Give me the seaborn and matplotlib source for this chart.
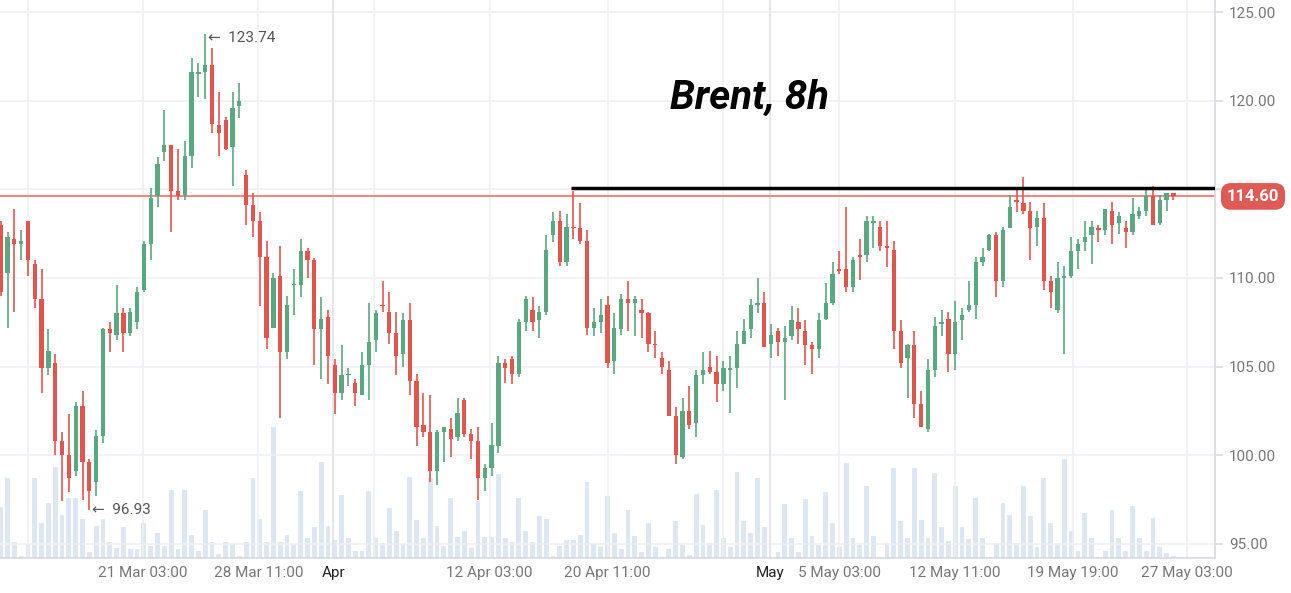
import numpy as np
import pandas as pd
import matplotlib
matplotlib.use("Agg")
import matplotlib.pyplot as plt
import seaborn as sns

# OHLC per 8h candle
opens = [113.0,110.3,112.2,111.9,113.2,110.8,108.8,104.9,105.2,100.8,100.0,99.1,102.8,99.6,98.5,101.1,107.1,106.8,108.0,106.9,
         107.5,109.3,111.9,114.6,117.1,117.5,114.9,114.7,116.9,121.5,121.6,122.0,118.6,118.9,117.4,119.7,115.8,114.1,113.2,111.2,
         107.2,110.1,105.8,109.6,109.6,111.5,111.0,107.1,107.8,105.1,103.5,104.5,104.1,103.4,105.1,106.5,108.5,108.1,106.9,105.7,
         107.6,104.2,101.7,101.3,99.1,101.3,101.5,101.0,103.1,101.2,100.8,98.7,99.3,100.5,105.2,105.4,104.6,107.5,108.2,107.6,
         108.1,112.4,113.2,110.9,112.9,112.8,112.1,107.2,107.5,108.5,105.3,107.1,108.8,108.6,108.2,108.0,106.3,105.5,104.8,102.2,
         99.9,102.5,101.8,104.5,105.0,104.7,104.0,104.8,104.9,106.3,107.1,108.5,108.6,106.3,107.0,106.4,106.7,107.5,107.0,106.2,
         106.0,107.7,108.6,110.5,110.5,109.5,111.3,111.3,113.1,112.9,111.8,111.6,107.0,105.5,106.2,102.9,101.5,104.8,107.4,107.7,
         105.7,107.6,108.2,108.5,110.9,111.6,112.4,109.8,112.8,114.4,114.2,113.8,112.9,113.4,109.8,108.2,110.0,110.1,111.5,112.0,
         112.4,112.8,112.7,113.8,113.1,112.8,112.6,113.5,113.8,114.6,113.1,114.4,114.8]
closes = [109.2,112.3,111.9,112.1,111.0,108.8,104.9,105.9,100.8,100.0,98.7,102.8,99.6,98.0,101.1,107.1,106.9,108.0,106.9,108.1,
          109.2,111.9,114.5,116.4,117.5,114.9,114.6,116.9,121.6,121.6,122.0,118.7,118.2,117.3,119.6,120.0,114.1,113.2,111.2,106.6,
          110.0,105.8,108.5,109.6,111.5,111.0,107.1,107.7,105.6,103.5,104.5,104.6,103.5,105.1,106.4,108.0,108.4,106.9,105.6,107.6,
          104.2,101.6,101.3,99.1,101.3,101.6,100.9,102.4,101.2,100.8,98.7,99.3,100.6,105.2,104.9,104.6,107.5,108.8,107.5,108.1,
          111.6,113.2,110.9,112.9,112.8,112.1,107.2,107.5,107.9,105.2,107.2,108.8,108.6,108.8,108.0,106.3,106.2,105.0,102.2,100.0,
          102.5,101.7,104.5,104.8,104.7,104.0,104.9,104.9,106.3,107.0,108.5,108.6,106.1,106.8,106.4,106.6,107.6,107.1,106.2,106.0,
          107.6,108.6,110.2,110.4,109.5,111.0,111.2,113.2,113.2,111.8,111.7,107.0,105.2,106.2,102.9,101.6,104.8,107.3,107.5,105.7,
          107.5,107.9,108.5,110.9,111.2,112.4,109.8,112.7,114.0,114.3,113.8,112.8,113.4,109.8,109.2,110.0,110.1,111.5,111.9,112.3,
          112.9,112.7,113.9,113.0,113.5,112.6,113.6,113.8,114.6,113.0,114.4,114.8,114.6]
highs = [113.2,112.6,113.9,112.7,113.2,111.0,110.5,107.1,105.7,101.3,102.3,103.0,103.6,99.8,101.4,107.2,107.5,109.6,108.3,108.3,
         109.5,112.1,115.1,116.8,119.5,117.5,117.3,117.7,122.4,122.1,123.74,123.0,120.5,119.1,120.5,121.0,116.1,114.8,113.7,112.1,
         110.3,111.8,109.0,110.5,112.2,111.7,111.1,108.9,108.2,105.4,106.2,104.9,104.3,105.8,108.6,108.2,109.8,109.2,108.1,108.0,
         108.6,104.6,103.5,103.4,101.4,101.6,102.1,103.2,103.2,101.5,101.6,99.5,101.8,105.6,105.4,105.6,107.7,109.0,108.9,108.4,
         112.4,113.7,113.8,113.6,114.9,114.2,112.7,108.3,108.8,109.0,108.0,109.1,109.8,109.0,108.8,108.1,107.0,105.8,105.3,102.7,
         103.2,103.9,104.8,105.8,105.9,105.6,105.3,105.6,107.0,107.7,108.8,110.0,109.2,107.4,107.2,107.3,108.4,108.3,107.6,106.4,
         108.0,109.7,110.9,111.5,114.0,111.2,112.2,113.5,113.5,113.2,113.2,112.1,107.6,106.3,107.0,103.6,105.4,107.8,108.2,108.1,
         108.7,108.3,109.8,111.2,111.7,112.5,112.6,112.9,114.7,115.1,115.7,114.3,113.8,114.2,110.1,110.9,110.7,112.3,112.2,113.2,
         113.2,113.0,113.9,114.3,113.7,113.2,114.5,114.0,115.0,115.2,114.7,114.8,114.8]
lows = [109.0,107.2,108.1,111.0,110.1,108.3,103.5,104.5,100.0,97.4,97.9,98.8,97.5,96.93,97.7,100.7,105.8,106.5,105.8,106.7,
        107.1,109.2,111.0,114.0,116.6,112.6,114.4,114.4,116.2,120.2,120.1,118.2,116.9,117.2,115.2,119.0,113.0,112.3,108.4,106.0,
        107.2,102.1,105.4,107.9,108.9,110.0,105.1,104.3,104.0,102.3,103.1,103.9,102.8,103.4,103.1,105.8,108.1,106.3,104.5,105.0,
        103.4,100.5,101.0,98.5,98.3,99.6,99.9,100.8,101.0,99.8,97.5,98.0,98.8,100.1,104.1,104.0,104.4,107.0,107.0,106.6,
        107.9,112.0,110.7,110.7,112.2,111.9,106.8,106.7,106.9,104.9,104.6,106.8,107.0,106.7,106.6,105.8,105.5,104.6,102.2,99.5,
        99.8,101.5,101.0,104.0,104.6,103.0,103.6,102.4,103.8,106.3,106.6,108.0,106.1,105.5,105.6,103.1,106.5,106.3,105.1,104.6,
        105.5,107.6,108.5,110.2,109.2,109.2,109.9,110.9,111.7,111.5,110.6,106.0,104.9,103.2,102.1,101.6,101.3,104.4,106.7,104.7,
        104.8,106.5,108.1,107.7,110.7,111.5,108.9,109.5,112.8,113.7,113.6,111.0,111.8,109.3,108.3,108.0,105.7,110.0,110.5,111.5,
        110.8,112.0,112.4,111.9,112.5,111.7,112.4,113.3,113.5,113.0,113.0,113.8,114.4]

# volume (relative units)
volume = [55,86,17,2,15,86,38,59,98,46,65,65,42,6,34,42,17,11,33,10,
          10,38,13,27,13,73,10,73,25,8,52,17,4,17,15,2,17,86,42,17,
          141,17,25,15,72,21,33,103,34,19,68,21,8,8,72,21,16,54,29,15,
          87,41,21,86,34,13,65,23,29,11,61,23,23,90,22,17,65,29,17,45,
          42,2,13,19,19,25,82,15,12,67,27,10,52,24,6,38,12,1,10,40,
          14,3,69,36,16,73,22,12,93,40,27,86,33,1,6,58,21,6,63,24,
          14,71,38,12,102,22,14,77,24,1,16,97,40,21,97,41,21,91,33,18,
          77,33,20,65,21,1,16,59,46,16,77,45,12,86,38,16,106,29,8,48,
          22,1,8,52,21,8,56,21,8,43,12,5,2]
volume = volume[:len(opens)]

tick_pos = [20.8, 37.8, 48.8, 71.7, 89.0, 112.9, 123.0, 139.9, 157.2, 174.0]
tick_labels = ["21 Mar 03:00", "28 Mar 11:00", "Apr", "12 Apr 03:00", "20 Apr 11:00",
               "May", "5 May 03:00", "12 May 11:00", "19 May 19:00", "27 May 03:00"]
extra_grid = [4.0, 54.8, 106.0]
price_ticks = [95, 100, 105, 110, 115, 120, 125]
last_price = 114.60
resistance = 115.05
res_start = 83.6

sns.set_theme(style="white")
plt.rcParams['font.family'] = ['Roboto', 'DejaVu Sans']

GREEN = "#5aa882"
RED = "#e0564f"

fig = plt.figure(figsize=(12.91, 5.93), dpi=100)
ax = fig.add_axes([0.0, 0.059, 1215/1291, 0.941])
ax2 = ax.twinx()

df = pd.DataFrame({"i": np.arange(len(opens)), "o": opens, "c": closes, "h": highs, "l": lows, "v": volume})
df["up"] = df["c"] >= df["o"]

# volume bars
sns.barplot(x=df["i"], y=df["v"], native_scale=True, ax=ax2, color="#dce7f2",
            saturation=1, width=0.7, linewidth=0, zorder=0)
ax2.set_ylim(0, 600)
ax2.set_yticks([])
ax2.set_ylabel("")
ax2.set_xlabel("")
ax2.grid(False)
for s in ax2.spines.values():
    s.set_visible(False)
ax.set_zorder(ax2.get_zorder() + 1)
ax.patch.set_visible(False)

colors = np.where(df["up"], GREEN, RED)
ax.vlines(df["i"], df["l"], df["h"], colors=colors, linewidth=1.2, zorder=3)
bottoms = np.minimum(df["o"], df["c"])
heights = np.maximum(np.abs(df["c"] - df["o"]), 0.08)
ax.bar(df["i"], heights, bottom=bottoms, color=colors, width=0.62, linewidth=0, zorder=4)

ax.set_xlim(-0.1, 178.1)
ax.set_ylim(94.2, 125.68)

# grid
for y in price_ticks:
    ax.axhline(y, color="#eef0f3", lw=1.2, zorder=0)
for x in tick_pos + extra_grid:
    dark = x in (48.8, 112.9)
    ax.axvline(x, color="#dfe2e6" if dark else "#eef0f3", lw=1.2, zorder=0)

ax.yaxis.tick_right()
ax.set_yticks(price_ticks)
ax.set_yticklabels(["" if p == 115 else f"{p:.2f}" for p in price_ticks], color="#777777", fontsize=11)
ax.tick_params(axis="y", length=6, color="#dddddd", pad=4)
ax.set_xticks(tick_pos)
ax.set_xticklabels(tick_labels, fontsize=11)
ax.set_xlabel("")
ax.set_ylabel("")
for lbl, t in zip(ax.get_xticklabels(), tick_labels):
    lbl.set_color("#222222" if t in ("Apr", "May") else "#777777")
ax.tick_params(axis="x", length=0, pad=6)
for k, s in ax.spines.items():
    s.set_visible(False)
ax.spines["right"].set_visible(True)
ax.spines["right"].set_color("#d8dbe0")
ax.spines["bottom"].set_visible(True)
ax.spines["bottom"].set_color("#d8dbe0")

# price line and resistance
ax.axhline(last_price, color="#ea7d78", lw=1.3, zorder=2)
ax.plot([res_start, 178.1], [resistance, resistance], color="black", lw=2.5, zorder=5, solid_capstyle="butt")
ax.text(1.0 + 38/1215, last_price, f"{last_price:.2f}", transform=ax.get_yaxis_transform(),
        ha="center", va="center", color="white", fontsize=12, fontweight="bold", zorder=10,
        bbox=dict(boxstyle="round,pad=0.35,rounding_size=0.6", fc="#e05a55", ec="none"), clip_on=False)

# annotations
imax = int(np.argmax(highs)); imin = int(np.argmin(lows))
ax.annotate(f"←  {highs[imax]:.2f}", (imax, highs[imax]), xytext=(2, -8), textcoords="offset points",
            fontsize=11, color="#555555", va="bottom", ha="left")
ax.annotate(f"←  {lows[imin]:.2f}", (imin, lows[imin]), xytext=(2, 0), textcoords="offset points",
            fontsize=11, color="#555555", va="center", ha="left")

ax.text(0.617, 0.825, "Brent, 8h", transform=ax.transAxes, ha="center", va="center",
        fontsize=29, fontweight="bold", fontstyle="italic", color="black", zorder=10)

fig.savefig("out.png", dpi=100)
